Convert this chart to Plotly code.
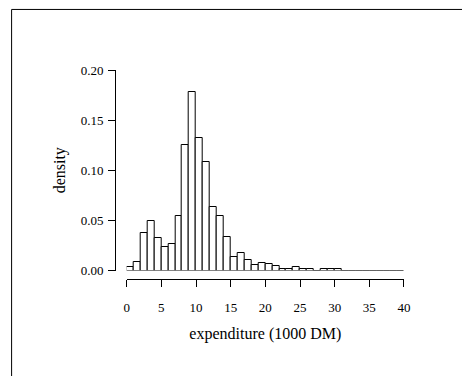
import plotly.graph_objects as go

# Histogram data: bins of width 1 (1000 DM) from 0 to 40, density values
bin_edges = list(range(0, 41))
density = [0.0033, 0.0090, 0.0370, 0.0496, 0.0320, 0.0235, 0.0265, 0.0540,
           0.1250, 0.1776, 0.1326, 0.1080, 0.0630, 0.0540, 0.0331, 0.0133,
           0.0179, 0.0103, 0.0054, 0.0077, 0.0064, 0.0044, 0.0017, 0.0017,
           0.0034, 0.0017, 0.0017, 0.0000, 0.0017, 0.0017, 0.0017, 0.0000,
           0.0000, 0.0000, 0.0000, 0.0000, 0.0000, 0.0000, 0.0000, 0.0000]
x_ticks = [0, 5, 10, 15, 20, 25, 30, 35, 40]
y_ticks = [0.00, 0.05, 0.10, 0.15, 0.20]
y_tick_labels = ["0.00", "0.05", "0.10", "0.15", "0.20"]

centers = [(bin_edges[i] + bin_edges[i + 1]) / 2 for i in range(len(density))]
widths = [bin_edges[i + 1] - bin_edges[i] for i in range(len(density))]

# the page body has an 8px margin, so the figure is laid out relative to it
OFF = 8
W, H = 470 - OFF, 376 - OFF
L, R, T, B = 115 - OFF, 404.3 - OFF, 70 - OFF, 279.5 - OFF
pw, ph = R - L, B - T
x0px, y0px = 126.7 - OFF, 271.0 - OFF

font = dict(family="Liberation Serif, Times New Roman, serif", size=13, color="black")

fig = go.Figure()
# zero-height bins drawn as a grey baseline
fig.add_trace(go.Scatter(x=[bin_edges[0], bin_edges[-1]], y=[0, 0], mode="lines",
                         line=dict(color="#8a8a8a", width=1), hoverinfo="skip",
                         showlegend=False))
fig.add_trace(go.Bar(x=centers, y=density, width=widths,
                     marker=dict(color="white", line=dict(color="black", width=1)),
                     showlegend=False))

fig.update_layout(
    width=W, height=H,
    margin=dict(l=L, r=W - R, t=T, b=H - B, pad=0),
    paper_bgcolor="white", plot_bgcolor="white",
    font=font,
    bargap=0,
    xaxis=dict(domain=[(x0px - L) / pw, 1], range=[0, 40], anchor="free", position=0,
               tickvals=x_ticks, ticks="outside", ticklen=7, tickwidth=1, tickcolor="black",
               ticklabelstandoff=9,
               showline=True, linecolor="black", linewidth=1, showgrid=False, zeroline=False,
               title=dict(text="expenditure (1000 DM)", standoff=14), tickfont=font),
    yaxis=dict(domain=[(B - y0px) / ph, 1], range=[0, 0.2], anchor="free", position=0,
               tickvals=y_ticks, ticktext=y_tick_labels, ticks="outside", ticklen=7,
               tickwidth=1, tickcolor="black", ticklabelstandoff=2,
               showline=True, linecolor="black", linewidth=1, showgrid=False, zeroline=False,
               title=dict(text="density", standoff=10), tickfont=font),
    shapes=[dict(type="rect", xref="paper", yref="paper",
                 x0=(11.5 - OFF - L) / pw, x1=(W + 20 - L) / pw,
                 y0=(B - (H + 20)) / ph, y1=(B - (9.3 - OFF)) / ph,
                 line=dict(color="black", width=1), fillcolor="rgba(0,0,0,0)", layer="below")],
)

fig.write_html("out.html")
